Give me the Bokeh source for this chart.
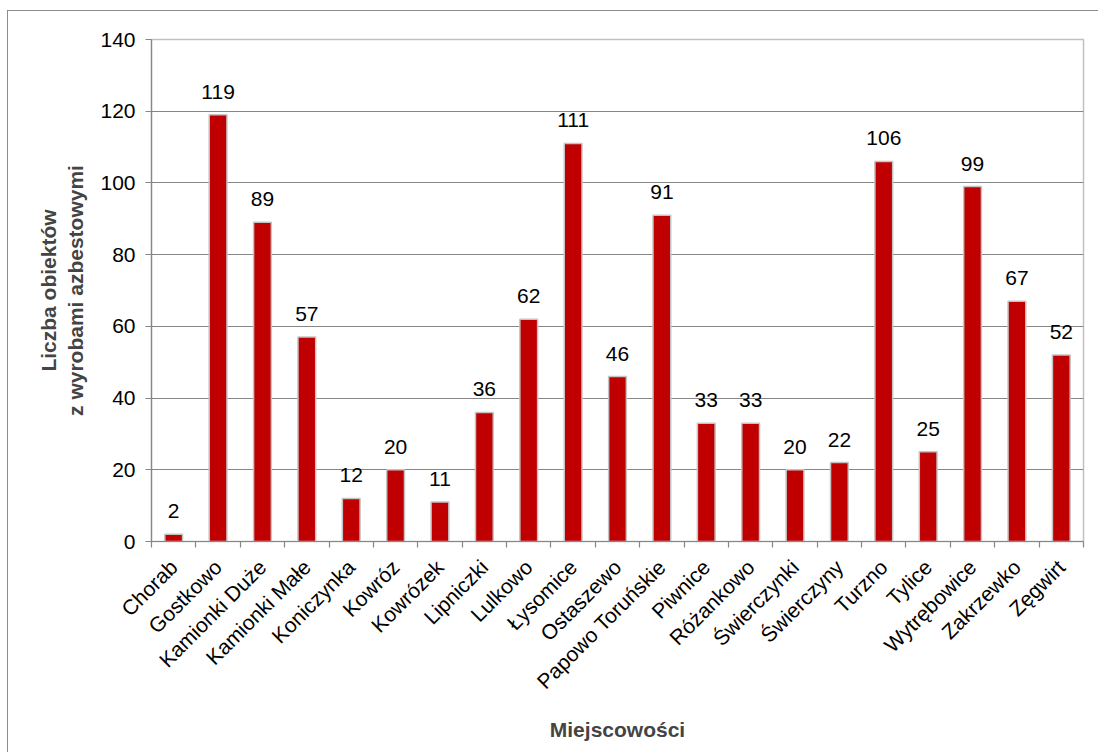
import math
from bokeh.plotting import figure
from bokeh.models import Range1d, FixedTicker, ColumnDataSource
from bokeh.core.properties import value
from bokeh.embed import file_html
from bokeh.resources import INLINE

categories = ["Chorab", "Gostkowo", "Kamionki Duże", "Kamionki Małe", "Koniczynka",
              "Kowróz", "Kowrózek", "Lipniczki", "Lulkowo", "Łysomice", "Ostaszewo",
              "Papowo Toruńskie", "Piwnice", "Różankowo", "Świerczynki", "Świerczyny",
              "Turzno", "Tylice", "Wytrębowice", "Zakrzewko", "Zęgwirt"]
counts = [2, 119, 89, 57, 12, 20, 11, 36, 62, 111, 46, 91, 33, 33, 20, 22, 106, 25, 99, 67, 52]
y_ticks = [0, 20, 40, 60, 80, 100, 120, 140]

FONT = "Liberation Sans"
GRAY = "#868686"
FS = "21px"

n = len(categories)
centers = [i + 0.5 for i in range(n)]
bounds = list(range(n + 1))

src = ColumnDataSource(dict(x=centers, y=counts, lab=[str(c) for c in counts]))

p = figure(width=1091, height=742, output_backend="svg", toolbar_location=None,
           x_range=Range1d(0, n), y_range=Range1d(0, 140),
           min_border_left=143, min_border_right=16, min_border_top=28, min_border_bottom=212)
p.styles = {"margin-left": "7px", "margin-top": "10px",
            "border-left": "1px solid #8c8c8c", "border-top": "1px solid #8c8c8c"}

p.vbar(x="x", top="y", width=0.4, source=src, fill_color="#C00000",
       line_color="#c4c4c4", line_width=1.5)
p.text(x="x", y="y", text="lab", source=src, y_offset=-23, text_align="center",
       text_baseline="alphabetic", text_font=value(FONT), text_font_size=FS,
       text_color="black")

p.outline_line_color = "#c0c0c0"
p.outline_line_width = 1.5
p.xgrid.grid_line_color = None
p.ygrid.grid_line_color = GRAY
p.ygrid.grid_line_width = 1.2
p.ygrid.ticker = FixedTicker(ticks=y_ticks)

xa = p.xaxis[0]
xa.ticker = FixedTicker(ticks=centers, minor_ticks=bounds)
xa.major_label_overrides = {c: lab for c, lab in zip(centers, categories)}
xa.major_tick_line_color = None
xa.minor_tick_line_color = GRAY
xa.minor_tick_out = 6
xa.minor_tick_in = 0
xa.minor_tick_line_width = 1.2
xa.axis_line_color = GRAY
xa.axis_line_width = 1.2
xa.major_label_orientation = math.pi / 4
xa.major_label_text_font = FONT
xa.major_label_text_font_size = FS
xa.major_label_text_color = "black"
xa.major_label_standoff = 16
xa.axis_label = "Miejscowości"
xa.axis_label_text_font = FONT
xa.axis_label_text_font_style = "bold"
xa.axis_label_text_font_size = FS
xa.axis_label_standoff = 14

ya = p.yaxis[0]
ya.ticker = FixedTicker(ticks=y_ticks)
ya.axis_line_color = GRAY
ya.axis_line_width = 1.2
ya.major_tick_line_color = GRAY
ya.major_tick_out = 6
ya.major_tick_in = 0
ya.minor_tick_line_color = None
ya.major_label_text_font = FONT
ya.major_label_text_font_size = FS
ya.major_label_text_color = "black"
ya.major_label_standoff = 10
ya.axis_label = "Liczba obiektów\nz wyrobami azbestowymi"
ya.axis_label_text_font = FONT
ya.axis_label_text_font_style = "bold"
ya.axis_label_text_font_size = FS
ya.axis_label_standoff = 10

open("out.html", "w").write(file_html(p, INLINE))
